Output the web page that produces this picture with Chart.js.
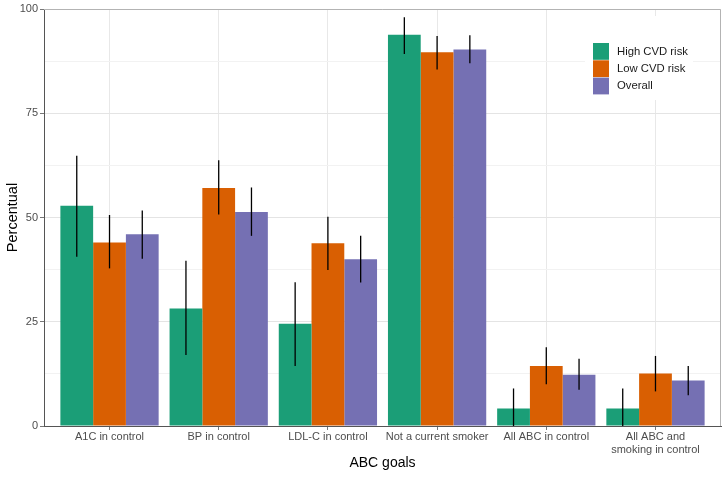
<!DOCTYPE html>
<html>
<head>
<meta charset="utf-8">
<script src="https://cdn.jsdelivr.net/npm/chart.js@4.4.1/dist/chart.umd.min.js"></script>
<style>
  html, body { margin: 0; padding: 0; background: #fff; }
  #wrap { width: 727px; height: 477px; }
</style>
</head>
<body>
<div id="wrap"><canvas id="myChart"></canvas></div>
<script>
const goals = [
  'A1C in control',
  'BP in control',
  'LDL-C in control',
  'Not a current smoker',
  'All ABC in control',
  ['All ABC and', 'smoking in control'],
];
const groups = ['High CVD risk', 'Low CVD risk', 'Overall'];
const colors = ['#1B9E77', '#D95F02', '#7570B3'];

// bar heights and the ends of the error bars, in percent
const highRisk     = [52.8, 28.2, 24.5, 93.8, 4.2, 4.2];
const highRiskLow  = [40.6, 17.0, 14.4, 89.2, 0.0, 0.0];
const highRiskHigh = [64.8, 39.6, 34.5, 98.0, 9.0, 9.0];

const lowRisk      = [44.0, 57.1, 43.8, 89.6, 14.4, 12.6];
const lowRiskLow   = [37.8, 50.7, 37.4, 85.5, 10.0, 8.3];
const lowRiskHigh  = [50.6, 63.7, 50.2, 93.5, 18.9, 16.8];

const overall      = [46.0, 51.3, 40.0, 90.3, 12.3, 10.9];
const overallLow   = [40.1, 45.6, 34.4, 87.0, 8.7, 7.4];
const overallHigh  = [51.7, 57.2, 45.6, 93.7, 16.1, 14.4];

const yTicks = [0, 25, 50, 75, 100];

Chart.defaults.font.family = "'Liberation Sans', Arial, sans-serif";

function points(values){
  return values.map(function(v, i){ return { x: i, y: v }; });
}

const data = {
  datasets: [
    { label: groups[0], data: points(highRisk), backgroundColor: colors[0], errLow: highRiskLow, errHigh: highRiskHigh },
    { label: groups[1], data: points(lowRisk),  backgroundColor: colors[1], errLow: lowRiskLow,  errHigh: lowRiskHigh },
    { label: groups[2], data: points(overall),  backgroundColor: colors[2], errLow: overallLow,  errHigh: overallHigh },
  ]
};

// vertical error bars, no caps
const errorBars = {
  id: 'errorBars',
  afterDatasetsDraw(chart){
    const ctx = chart.ctx;
    const y = chart.scales.y;
    ctx.save();
    ctx.strokeStyle = '#000';
    ctx.lineWidth = 1.3;
    chart.data.datasets.forEach(function(ds, d){
      chart.getDatasetMeta(d).data.forEach(function(bar, i){
        ctx.beginPath();
        ctx.moveTo(bar.x, y.getPixelForValue(ds.errLow[i]));
        ctx.lineTo(bar.x, y.getPixelForValue(ds.errHigh[i]));
        ctx.stroke();
      });
    });
    ctx.restore();
  }
};

// top and right panel border
const panelBorder = {
  id: 'panelBorder',
  afterDatasetsDraw(chart){
    const a = chart.chartArea;
    const ctx = chart.ctx;
    ctx.save();
    ctx.strokeStyle = '#B3B3B3';
    ctx.lineWidth = 1;
    ctx.beginPath();
    ctx.moveTo(a.left, a.top + 0.5);
    ctx.lineTo(a.right - 0.5, a.top + 0.5);
    ctx.lineTo(a.right - 0.5, a.bottom);
    ctx.stroke();
    ctx.restore();
  }
};

// legend inside the panel, top right
const insideLegend = {
  id: 'insideLegend',
  afterDraw(chart){
    const a = chart.chartArea;
    const ctx = chart.ctx;
    const left = a.right - 136;
    const top = a.top + 7;
    ctx.save();
    ctx.fillStyle = '#fff';
    ctx.fillRect(left, top, 108, 84);
    ctx.font = "11.3px 'Liberation Sans', Arial, sans-serif";
    ctx.textBaseline = 'middle';
    chart.data.datasets.forEach(function(ds, i){
      const ky = top + 27 + i * 17.3;
      ctx.fillStyle = ds.backgroundColor;
      ctx.fillRect(left + 8, ky, 16, 16.8);
      ctx.fillStyle = '#1A1A1A';
      ctx.fillText(ds.label, left + 32, ky + 8.6);
    });
    ctx.restore();
  }
};

const config = {
  type: 'bar',
  data: data,
  options: {
    responsive: true,
    maintainAspectRatio: false,
    animation: false,
    layout: { padding: { left: 0, right: 6, top: 9, bottom: 5 } },
    datasets: { bar: { categoryPercentage: 0.9, barPercentage: 1.0, borderWidth: 0 } },
    plugins: { legend: { display: false }, tooltip: { enabled: false } },
    scales: {
      x: {
        type: 'linear',
        min: -0.6,
        max: 5.6,
        offset: false,
        afterBuildTicks: function(scale){
          scale.ticks = goals.map(function(g, i){ return { value: i }; });
        },
        afterFit: function(scale){ scale.height = 46; },
        ticks: {
          autoSkip: false,
          maxRotation: 0,
          padding: 1,
          color: '#4D4D4D',
          font: { size: 11, lineHeight: 1.12 },
          callback: function(v){ return goals[v]; }
        },
        grid: { offset: false, color: '#E8E8E8', tickLength: 4, tickColor: '#777' },
        border: { color: '#555', width: 1 },
        title: { display: true, text: 'ABC goals', color: '#000', font: { size: 14 }, padding: 0 }
      },
      y: {
        min: 0,
        max: 100,
        afterBuildTicks: function(scale){
          const t = [];
          for (let v = 0; v <= 100; v += 12.5) t.push({ value: v });
          scale.ticks = t;
        },
        afterFit: function(scale){ scale.width = 44; },
        ticks: {
          padding: 2,
          color: '#4D4D4D',
          font: { size: 11 },
          callback: function(v){ return yTicks.includes(v) ? String(v) : ''; }
        },
        grid: {
          tickLength: 4,
          color: function(c){ return yTicks.includes(c.tick.value) ? '#E4E4E4' : '#F2F2F2'; },
          tickColor: function(c){ return yTicks.includes(c.tick.value) ? '#777' : 'rgba(0,0,0,0)'; }
        },
        border: { color: '#555', width: 1 },
        title: { display: true, text: 'Percentual', color: '#000', font: { size: 14.5 }, padding: { top: 4, bottom: 0 } }
      }
    }
  },
  plugins: [errorBars, panelBorder, insideLegend]
};

const myChart = new Chart(document.getElementById('myChart'), config);
</script>
</body>
</html>
